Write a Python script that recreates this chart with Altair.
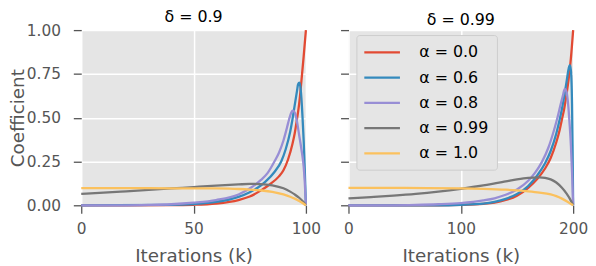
import altair as alt
import pandas as pd

# ---------------- data ----------------
alpha_labels = ["α = 0.0", "α = 0.6", "α = 0.8", "α = 0.99", "α = 1.0"]
line_colors = ["#E24A33", "#348ABD", "#988ED5", "#777777", "#FBC15E"]

# left panel: delta = 0.9, 100 iterations
red_L_k = [0, 40, 50, 60, 70, 75, 80, 84, 88, 90, 92, 94, 95, 96, 97, 98, 99, 100]
red_L_v = [0.0, 0.001, 0.003, 0.01, 0.03, 0.05, 0.085, 0.12, 0.165, 0.2, 0.26, 0.35, 0.41, 0.49, 0.58, 0.71, 0.85, 1.0]

blue_L_k = [0, 40, 50, 60, 70, 75, 78.5, 82, 86, 89, 91, 93, 94, 95, 96, 96.5, 97, 97.5, 98, 98.5, 99, 99.5, 100]
blue_L_v = [0.0, 0.002, 0.007, 0.019, 0.048, 0.075, 0.1, 0.135, 0.19, 0.25, 0.32, 0.42, 0.49, 0.57, 0.65, 0.69, 0.70, 0.68, 0.61, 0.50, 0.37, 0.20, 0.0]

purple_L_k = [0, 20, 30, 40, 50, 60, 70, 75.5, 80, 83, 86, 88, 90, 91.5, 92.5, 93.5, 94.2, 95, 96, 97, 98, 99, 99.5, 100]
purple_L_v = [0.0, 0.0, 0.002, 0.006, 0.015, 0.03, 0.062, 0.1, 0.145, 0.185, 0.25, 0.30, 0.37, 0.44, 0.49, 0.53, 0.54, 0.53, 0.48, 0.40, 0.32, 0.22, 0.13, 0.0]

gray_L_k = [0, 10, 20, 30, 40, 50, 60, 70, 75, 80, 85, 90, 93, 95, 97, 99, 100]
gray_L_v = [0.065, 0.072, 0.080, 0.088, 0.096, 0.104, 0.112, 0.119, 0.122, 0.121, 0.114, 0.097, 0.078, 0.062, 0.043, 0.017, 0.0]

yellow_L_k = [0, 20, 40, 50, 60, 70, 75, 80, 85, 90, 93, 95, 97, 99, 100]
yellow_L_v = [0.098, 0.098, 0.097, 0.097, 0.096, 0.093, 0.090, 0.085, 0.077, 0.062, 0.049, 0.038, 0.025, 0.009, 0.0]

# right panel: delta = 0.99, 200 iterations
red_R_k = [0, 80, 100, 120, 130, 140, 150, 160, 168, 175, 180, 185, 188, 190, 192, 194, 196, 198, 200]
red_R_v = [0.0, 0.0, 0.002, 0.008, 0.015, 0.03, 0.055, 0.1, 0.15, 0.21, 0.27, 0.36, 0.43, 0.49, 0.55, 0.63, 0.72, 0.84, 1.0]

blue_R_k = [0, 80, 100, 120, 130, 140, 150, 160, 168, 175, 180, 185, 188, 190, 192, 194, 196, 197, 198, 199, 199.5, 200]
blue_R_v = [0.0, 0.0, 0.003, 0.01, 0.02, 0.037, 0.065, 0.11, 0.17, 0.24, 0.31, 0.41, 0.49, 0.55, 0.62, 0.70, 0.78, 0.80, 0.77, 0.58, 0.32, 0.0]

purple_R_k = [0, 40, 60, 80, 100, 120, 130, 140, 150, 160, 166, 172, 178, 183, 186, 189, 191, 192.5, 194, 195, 196, 197, 198, 199, 200]
purple_R_v = [0.0, 0.0, 0.002, 0.006, 0.013, 0.028, 0.04, 0.06, 0.09, 0.14, 0.185, 0.245, 0.33, 0.43, 0.50, 0.58, 0.63, 0.665, 0.65, 0.61, 0.54, 0.45, 0.34, 0.19, 0.0]

gray_R_k = [0, 20, 40, 60, 80, 100, 120, 140, 150, 160, 170, 175, 180, 185, 190, 194, 197, 200]
gray_R_v = [0.04, 0.047, 0.055, 0.065, 0.078, 0.094, 0.113, 0.136, 0.148, 0.157, 0.16, 0.157, 0.148, 0.13, 0.10, 0.068, 0.038, 0.0]

yellow_R_k = [0, 50, 100, 120, 140, 150, 160, 170, 180, 185, 190, 195, 200]
yellow_R_v = [0.10, 0.099, 0.097, 0.094, 0.089, 0.085, 0.080, 0.073, 0.062, 0.052, 0.038, 0.02, 0.0]

panel_titles = ["δ = 0.9", "δ = 0.99"]
x_ticks_L = [0, 50, 100]
x_ticks_R = [0, 100, 200]
y_ticks = [0, 0.25, 0.5, 0.75, 1.0]


def long_df(curves):
    rows = []
    for order, (label, ks, vs) in enumerate(curves):
        for k, v in zip(ks, vs):
            rows.append({"k": k, "v": v, "label": label, "o": order})
    return pd.DataFrame(rows)


df_L = long_df([
    (alpha_labels[0], red_L_k, red_L_v),
    (alpha_labels[1], blue_L_k, blue_L_v),
    (alpha_labels[2], purple_L_k, purple_L_v),
    (alpha_labels[3], gray_L_k, gray_L_v),
    (alpha_labels[4], yellow_L_k, yellow_L_v),
])
df_R = long_df([
    (alpha_labels[0], red_R_k, red_R_v),
    (alpha_labels[1], blue_R_k, blue_R_v),
    (alpha_labels[2], purple_R_k, purple_R_v),
    (alpha_labels[3], gray_R_k, gray_R_v),
    (alpha_labels[4], yellow_R_k, yellow_R_v),
])

FONT = "DejaVu Sans"
W, H = 227, 177


def panel(df, xmax, xticks, title, first, legend):
    yaxis = alt.Axis(
        values=y_ticks, format=".2f",
        title="Coefficient" if first else None,
        labels=first,
    )
    return (
        alt.Chart(df, title=alt.TitleParams(
            title, fontSize=16, font=FONT, fontWeight="normal",
            color="black", offset=-2, anchor="middle"))
        .mark_line(strokeWidth=2.3, interpolate="monotone")
        .encode(
            x=alt.X("k:Q", scale=alt.Scale(domain=[0, xmax], nice=False),
                    axis=alt.Axis(values=xticks, format="d", title="Iterations (k)")),
            y=alt.Y("v:Q", scale=alt.Scale(domain=[0, 1], nice=False), axis=yaxis),
            color=alt.Color("label:N",
                            scale=alt.Scale(domain=alpha_labels, range=line_colors),
                            legend=legend),
            order=alt.Order("k:Q"),
        )
        .properties(width=W, height=H)
    )


legend_R = alt.Legend(
    title=None, orient="none", legendX=8, legendY=5,
    symbolType="M-2.25,0L2.25,0", symbolSize=256, symbolStrokeWidth=2.3,
    symbolOffset=8.5, labelOffset=28,
    labelFontSize=16, labelFont=FONT, labelColor="black", labelLimit=300,
    padding=8, rowPadding=7.5,
    fillColor="#E5E5E5", strokeColor="#CCCCCC", cornerRadius=3,
)

left = panel(df_L, 100, x_ticks_L, panel_titles[0], True, None)
right = panel(df_R, 200, x_ticks_R, panel_titles[1], False, legend_R)

chart = (
    alt.hconcat(left, right, spacing=43, bounds="flush")
    .resolve_scale(color="independent")
    .properties(padding={"left": 0, "top": 0, "right": 0, "bottom": 0})
    .configure_view(fill="#E5E5E5", stroke=None)
    .configure_axis(
        domain=False, labelFlush=False,
        grid=True, gridColor="white", gridWidth=1.5,
        tickColor="#555555", tickSize=8, tickWidth=1.3,
        labelFont=FONT, labelFontSize=15.5, labelColor="#555555",
        titleFont=FONT, titleFontSize=18.5, titleColor="#555555",
        titleFontWeight="normal",
    )
    .configure_axisY(labelPadding=13, titlePadding=-1)
    .configure_axisX(labelPadding=9, titlePadding=9)
)

chart.save("out.html", embed_options={"renderer": "svg", "actions": False})
